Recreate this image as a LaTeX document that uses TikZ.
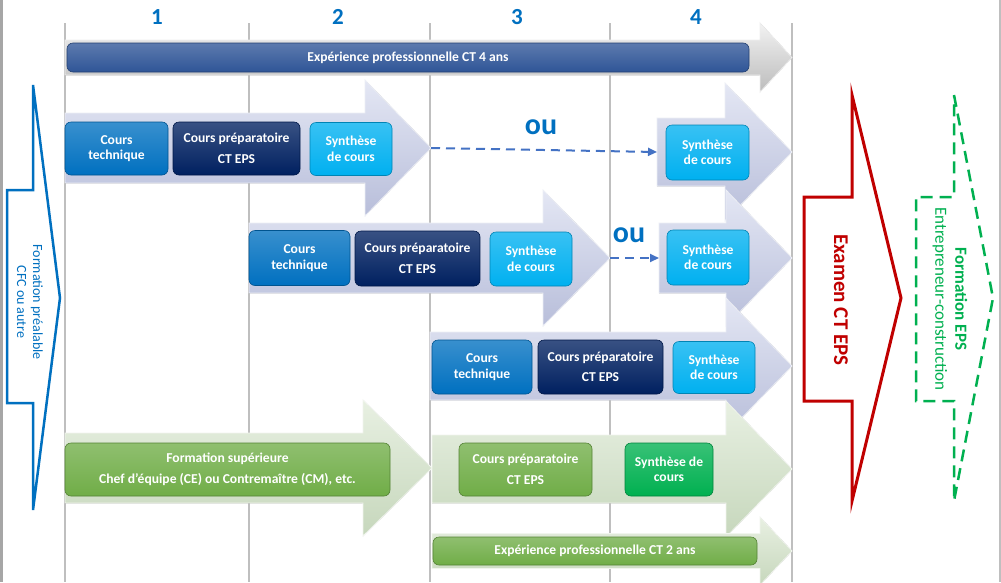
\documentclass[tikz,border=0pt]{standalone}
\usepackage{fontspec}
\setmainfont{Carlito}
\usetikzlibrary{arrows.meta}

\definecolor{bleuct}{RGB}{0,112,192}
\definecolor{marine}{RGB}{0,32,96}
\definecolor{ciel}{RGB}{0,176,240}
\definecolor{bleufonce}{RGB}{47,85,151}
\definecolor{vertfeuille}{RGB}{112,173,71}
\definecolor{vertvif}{RGB}{0,176,80}
\definecolor{rouge}{RGB}{192,0,0}
\definecolor{tirets}{RGB}{68,114,196}
\definecolor{grille}{RGB}{191,191,191}
\definecolor{lilhaut}{RGB}{228,231,244}
\definecolor{lilbas}{RGB}{184,190,218}
\definecolor{verthaut}{RGB}{232,240,226}
\definecolor{vertbas}{RGB}{198,215,188}
\definecolor{grishaut}{RGB}{242,242,242}
\definecolor{grisbas}{RGB}{188,188,188}

\tikzset{
  boite/.style={rounded corners=6pt, draw=#1!75!black, line width=0.6pt,
    top color=#1!78!white, bottom color=#1, text=white, align=center,
    inner sep=1pt, font=\bfseries\fontsize{13.6}{15.5}\selectfont},
  lilarrow/.style={top color=lilhaut, bottom color=lilbas, draw=white!75!lilbas, line width=0.8pt},
  vertarrow/.style={top color=verthaut, bottom color=vertbas, draw=white!75!vertbas, line width=0.8pt},
  grisarrow/.style={top color=grishaut, bottom color=grisbas, draw=white!75!grisbas, line width=0.8pt},
  ordash/.style={tirets, line width=2pt, dash pattern=on 9pt off 6pt, -{Triangle[length=9pt,width=8pt]}},
  ou/.style={text=bleuct, font=\bfseries\fontsize{30}{32}\selectfont},
  annee/.style={text=bleuct, font=\bfseries\fontsize{23}{26}\selectfont}
}

% big arrow: style, name, x left, x head, x tip, y mid, body half, head half
\newcommand{\fleche}[8]{%
  \filldraw[#1] (#3,#6-#7) -- (#4,#6-#7) -- (#4,#6-#8) -- (#5,#6)
    -- (#4,#6+#8) -- (#4,#6+#7) -- (#3,#6+#7) -- cycle;
  \coordinate (#2-in) at (#3,#6);
  \coordinate (#2-tip) at (#5,#6);}

\begin{document}
\begin{tikzpicture}[x=1pt, y=-1pt]
  \useasboundingbox (0,0) rectangle (1001,582);
  \fill[white] (0,0) rectangle (1001,582);
  \fill[gray!70] (0,0) rectangle (3,582);
  \draw[grille, line width=1.2pt] (1000,0) -- (1000,582);

  % years
  \foreach \x/\n in {65/0,249/1,430/2,610/3,792/4}
    \draw[grille, line width=1.5pt] (\x,23) -- (\x,582);
  \foreach \x/\n in {157/1,338/2,517/3,696/4}
    \node[annee] (an\n) at (\x,17) {\n};

  % arrows
  \fleche{grisarrow}{a0}{65}{760}{792}{57.5}{17.5}{34.5}
  \fleche{lilarrow}{a1}{65}{365}{431}{148}{35}{68}
  \fleche{lilarrow}{a1b}{657}{725}{792}{152}{34}{69}
  \fleche{lilarrow}{a2}{249}{543}{610}{258}{35}{68}
  \fleche{lilarrow}{a2b}{659}{726}{792}{258}{35}{68}
  \fleche{lilarrow}{a3}{430}{726}{792}{366}{34}{68}
  \fleche{vertarrow}{a4}{65}{363}{432}{468}{35}{68}
  \fleche{vertarrow}{a4b}{432}{726}{792}{469}{34}{68}
  \fleche{vertarrow}{a5}{432}{760}{792}{551}{17.5}{34}

  % boxes
  \node[boite=bleufonce, minimum width=682, minimum height=29] (ex4) at (408,57.5) {Expérience professionnelle CT 4 ans};

  \node[boite=bleuct, minimum width=103, minimum height=53] (ct1) at (116.5,148.5) {Cours\\technique};
  \node[boite=marine, minimum width=127, minimum height=53] (cp1) at (236.5,148.5) {Cours préparatoire\\[5pt]CT EPS};
  \node[boite=ciel, minimum width=82, minimum height=53] (sy1) at (351,149) {Synthèse\\de cours};
  \node[boite=ciel, minimum width=83, minimum height=55] (sy1b) at (707.5,152.5) {Synthèse\\de cours};

  \node[boite=bleuct, minimum width=101, minimum height=55] (ct2) at (299.5,258) {Cours\\technique};
  \node[boite=marine, minimum width=125, minimum height=55] (cp2) at (417.5,258.5) {Cours préparatoire\\[5pt]CT EPS};
  \node[boite=ciel, minimum width=82, minimum height=54] (sy2) at (531,259) {Synthèse\\de cours};
  \node[boite=ciel, minimum width=82, minimum height=55] (sy2b) at (708,257.5) {Synthèse\\de cours};

  \node[boite=bleuct, minimum width=100, minimum height=54] (ct3) at (482,367) {Cours\\technique};
  \node[boite=marine, minimum width=125, minimum height=54] (cp3) at (600.5,367) {Cours préparatoire\\[5pt]CT EPS};
  \node[boite=ciel, minimum width=82, minimum height=52] (sy3) at (714,367.5) {Synthèse\\de cours};

  \node[boite=vertfeuille, minimum width=325, minimum height=53] (fs) at (227.5,469.5) {Formation supérieure\\[6pt]Chef d’équipe (CE) ou Contremaître (CM), etc.};
  \node[boite=vertfeuille, minimum width=133, minimum height=53] (cp4) at (525.5,469.5) {Cours préparatoire\\[5pt]CT EPS};
  \node[boite=vertvif, minimum width=88, minimum height=53] (sy4) at (669,469.5) {Synthèse de\\cours};

  \node[boite=vertfeuille, minimum width=324, minimum height=28] (ex2) at (595,551) {Expérience professionnelle CT 2 ans};

  % "ou" alternatives
  \draw[ordash] (a1-tip) -- (a1b-in);
  \node[ou] (ou1) at (541,127) {ou};
  \draw[ordash] (a2-tip) -- (a2b-in);
  \node[ou] (ou2) at (629,235) {ou};

  % side arrows
  \draw[bleuct, line width=2.5pt, line join=miter] (33,85) -- (60,298) -- (33,510) -- (33,403)
    -- (7,403) -- (7,190) -- (33,190) -- cycle;
  \node[rotate=-90, text=bleuct, align=center, font=\fontsize{14}{16}\selectfont] (fp) at (30,302) {Formation préalable\\CFC ou autre};

  \draw[rouge, line width=3pt] (852,95) -- (901,298) -- (852,501) -- (852,401)
    -- (804,401) -- (804,197) -- (852,197) -- cycle;
  \node[rotate=-90, text=rouge, font=\bfseries\fontsize{21}{24}\selectfont] (exam) at (841,300) {Examen CT EPS};

  \draw[vertvif, line width=2.5pt, dash pattern=on 12pt off 7pt] (954,95) -- (993,298) -- (954,501) -- (954,401)
    -- (916,401) -- (916,197) -- (954,197) -- cycle;
  \node[rotate=-90, text=vertvif, align=center, font=\fontsize{17}{20}\selectfont] (feps) at (950,299) {\textbf{Formation EPS}\\Entrepreneur-construction};
\end{tikzpicture}
\end{document}
